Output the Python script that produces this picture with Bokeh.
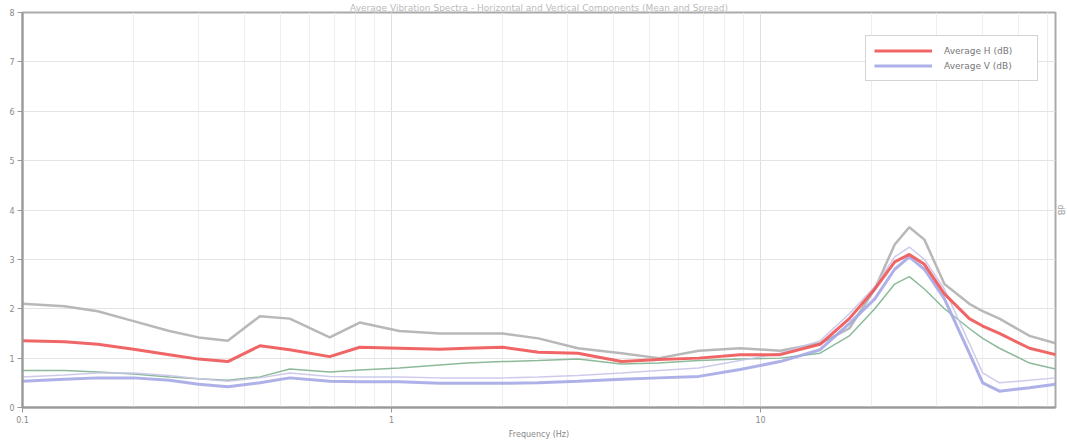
from bokeh.plotting import figure
from bokeh.models import FixedTicker, Legend, LegendItem, Title
from bokeh.embed import file_html
from bokeh.resources import INLINE

freq = [0.1, 0.13, 0.16, 0.2, 0.25, 0.3, 0.36, 0.44, 0.53, 0.68, 0.82, 1.05, 1.35, 1.6,
        2.0, 2.5, 3.2, 4.2, 5.3, 6.8, 8.8, 11.3, 14.5, 17.4, 20.4, 23.1, 25.3, 27.8,
        31.5, 36.8, 40.0, 44.4, 53.6, 63.0]

upper_gray = [2.1, 2.05, 1.95, 1.75, 1.55, 1.42, 1.35, 1.85, 1.8, 1.42, 1.72, 1.55, 1.5, 1.5,
              1.5, 1.4, 1.2, 1.1, 1.0, 1.15, 1.2, 1.15, 1.3, 1.6, 2.4, 3.3, 3.65, 3.4,
              2.5, 2.1, 1.95, 1.8, 1.45, 1.3]
avg_red = [1.35, 1.33, 1.28, 1.18, 1.07, 0.98, 0.93, 1.25, 1.17, 1.03, 1.22, 1.2, 1.18, 1.2,
           1.22, 1.12, 1.1, 0.93, 0.97, 1.0, 1.07, 1.07, 1.28, 1.8, 2.4, 2.95, 3.1, 2.9,
           2.3, 1.8, 1.65, 1.5, 1.2, 1.07]
lower_green = [0.75, 0.75, 0.72, 0.68, 0.62, 0.58, 0.55, 0.62, 0.78, 0.72, 0.76, 0.8, 0.86, 0.9,
               0.93, 0.95, 0.98, 0.88, 0.9, 0.95, 0.98, 1.0, 1.1, 1.45, 2.0, 2.5, 2.65, 2.4,
               2.0, 1.6, 1.4, 1.2, 0.9, 0.78]
avg_blue = [0.53, 0.57, 0.6, 0.6, 0.55, 0.47, 0.42, 0.5, 0.6, 0.53, 0.52, 0.52, 0.49, 0.49,
            0.49, 0.5, 0.53, 0.57, 0.6, 0.63, 0.77, 0.93, 1.17, 1.7, 2.2, 2.8, 3.05, 2.8,
            2.2, 1.1, 0.5, 0.33, 0.4, 0.47]
upper_blue = [0.62, 0.66, 0.7, 0.7, 0.65, 0.58, 0.53, 0.6, 0.7, 0.63, 0.62, 0.62, 0.6, 0.6,
              0.6, 0.62, 0.65, 0.7, 0.75, 0.8, 0.95, 1.1, 1.35, 1.9, 2.45, 3.05, 3.25, 3.0,
              2.4, 1.3, 0.7, 0.5, 0.55, 0.6]

legend_labels = ["Average H (dB)", "Average V (dB)"]
x_ticks = [0.1, 1, 10]
x_tick_labels = ["0.1", "1", "10"]
y_ticks = [0, 1, 2, 3, 4, 5, 6, 7, 8]
title_text = "Average Vibration Spectra - Horizontal and Vertical Components (Mean and Spread)"

p = figure(width=1066, height=447, x_axis_type="log", x_range=(0.1, 63), y_range=(0, 8),
           output_backend="svg", toolbar_location=None,
           min_border_left=22, min_border_right=9, min_border_top=11, min_border_bottom=40)
p.background_fill_color = "white"
p.outline_line_color = "#aaaaaa"
p.outline_line_width = 2

p.title.text = title_text
p.title.align = "center"
p.title.text_font_size = "9px"
p.title.text_font_style = "normal"
p.title.text_color = "#bbbbbb"
p.title.text_font = "DejaVu Sans"
p.title.standoff = 0
p.title.offset = 0

minor = [m * d for d in (0.1, 1, 10) for m in range(2, 10) if m * d <= 63]
p.xaxis.ticker = FixedTicker(ticks=x_ticks, minor_ticks=minor)
p.xaxis.major_label_overrides = {t: l for t, l in zip(x_ticks, x_tick_labels)}
p.yaxis.ticker = FixedTicker(ticks=y_ticks)

for ax in (p.xaxis, p.yaxis):
    ax.axis_line_color = "#999999"
    ax.axis_line_width = 2
    ax.major_tick_line_color = "#999999"
    ax.major_tick_out = 5
    ax.major_tick_in = 0
    ax.minor_tick_line_color = None
    ax.major_label_text_color = "#888888"
    ax.major_label_text_font_size = "8px"
    ax.major_label_text_font = "DejaVu Sans"
p.yaxis.major_label_standoff = 3
p.xaxis.major_label_standoff = 3
p.xaxis.axis_label = "Frequency (Hz)"
p.xaxis.axis_label_text_font_size = "8px"
p.xaxis.axis_label_text_font_style = "normal"
p.xaxis.axis_label_text_color = "#888888"
p.xaxis.axis_label_text_font = "DejaVu Sans"
p.xaxis.axis_label_standoff = 4

p.xgrid.grid_line_color = "#e0e0e0"
p.xgrid.minor_grid_line_color = "#eeeeee"
p.ygrid.grid_line_color = "#e4e4e4"

p.line(freq, upper_gray, line_color="#b0b0b0", line_width=2.5, line_alpha=0.9)
p.line(freq, lower_green, line_color="#7fb38f", line_width=1.5, line_alpha=0.9)
p.line(freq, upper_blue, line_color="#c9c4ea", line_width=1.5, line_alpha=0.9)
r_blue = p.line(freq, avg_blue, line_color="#a5a8e6", line_width=3, line_alpha=0.9)
r_red = p.line(freq, avg_red, line_color="#ee5555", line_width=3, line_alpha=0.9)

legend = Legend(items=[LegendItem(label=legend_labels[0], renderers=[r_red]),
                       LegendItem(label=legend_labels[1], renderers=[r_blue])],
                location=(843, 326))
legend.label_text_font_size = "9px"
legend.label_text_color = "#777777"
legend.label_text_font = "DejaVu Sans"
legend.glyph_width = 58
legend.glyph_height = 13
legend.label_height = 13
legend.label_width = 85
legend.label_standoff = 12
legend.spacing = 2
legend.padding = 8
legend.margin = 0
legend.border_line_color = "#aaaaaa"
legend.border_line_width = 1.5
legend.background_fill_alpha = 1
p.add_layout(legend)

p.add_layout(Title(text="dB", align="center", text_font_size="8px", text_font_style="normal",
                   text_color="#999999", text_font="DejaVu Sans", standoff=0, offset=0),
             "right")

open("out.html", "w").write(file_html(p, INLINE))
